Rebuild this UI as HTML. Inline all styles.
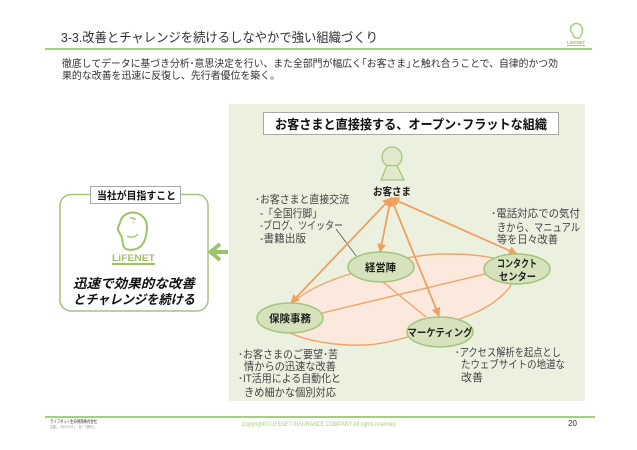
<!DOCTYPE html>
<html lang="ja">
<head>
<meta charset="utf-8">
<style>
html,body{margin:0;padding:0;background:#fff}
svg{display:block}
text{font-family:"Liberation Sans","Noto Sans CJK JP",sans-serif;fill:#333}
.n{font-size:10.5px;font-weight:bold;fill:#222;text-anchor:middle}
.b{font-size:10.8px;fill:#444}
</style>
</head>
<body>
<svg width="637" height="450" viewBox="0 0 637 450" xmlns="http://www.w3.org/2000/svg">
<defs>
<marker id="a" viewBox="0 0 10 10" refX="9" refY="5" markerWidth="5" markerHeight="5" orient="auto-start-reverse"><path d="M0 0L10 5L0 10z" fill="#f0a060"/></marker>
</defs>
<rect width="637" height="450" fill="#fff"/>
<text x="61" y="42" font-size="13.2" textLength="317" lengthAdjust="spacingAndGlyphs">3-3.改善とチャレンジを続けるしなやかで強い組織づくり</text>
<rect x="45" y="48" width="547" height="2" fill="#a9cd7f"/>
<text x="62" y="67" font-size="10.4" textLength="496" lengthAdjust="spacingAndGlyphs">徹底してデータに基づき分析･意思決定を行い、また全部門が幅広く｢お客さま｣と触れ合うことで、自律的かつ効</text>
<text x="62" y="79" font-size="10.4" textLength="218" lengthAdjust="spacingAndGlyphs">果的な改善を迅速に反復し、先行者優位を築く。</text>

<!-- top logo -->
<path d="M576 23.500c4 0 6.500 3 6.500 6.500 0 3-1.500 6-3 7.500-2 1-5 .5-6-1-.5-1.500-.5-2.500-1.500-3.500-1-1-1.500-2-1.500-3.500 0-3.500 2.500-6 5.500-6z" fill="none" stroke="#a9cd7f" stroke-width="1.500"/>
<text x="576" y="44" font-size="4.500" font-weight="bold" text-anchor="middle" textLength="18" lengthAdjust="spacingAndGlyphs" style="fill:#9bc46c">LiFENET</text>
<rect x="567" y="45" width="18" height="1" fill="#a9cd7f"/>

<rect x="229" y="104" width="356" height="297" fill="#ebf0df"/>

<rect x="263.500" y="112.500" width="295" height="22" fill="#fff" stroke="#a8a8a8"/>
<text x="411" y="129" font-size="13" font-weight="bold" text-anchor="middle" textLength="272" lengthAdjust="spacingAndGlyphs" style="fill:#111">お客さまと直接接する、オープン･フラットな組織</text>

<!-- Person -->
<circle cx="392" cy="157" r="10" fill="#e0e9cc" stroke="#a3c47c" stroke-width="1.200"/>
<path d="M387 165.500L397 165.500L404 180H381z" fill="#e0e9cc" stroke="#a3c47c" stroke-width="1.200"/>
<text x="392" y="195" class="n" textLength="38" lengthAdjust="spacingAndGlyphs">お客さま</text>

<!-- Big freeform ellipse -->
<path d="M293 302C310 288 330 280 350 274C375 265 410 254 447 254C465 254 480 255 493 258C510 262 515 275 510 287C500 300 485 310 462 318C440 328 425 333 408 337C390 342 375 345 363 345C340 346 310 342 290 333C272 325 275 310 293 302Z" fill="#fce9dd" stroke="#f0a468" stroke-width="1.400"/>

<!-- thin lines -->
<path d="M383 282L426 317M322 313L485 274" stroke="#f0a468" stroke-width="1.400" fill="none"/>
<path d="M336 229L357 257" stroke="#444" stroke-width="0.700" fill="none"/>

<!-- arrows -->
<g stroke="#f0a060" stroke-width="1.800" fill="none">
<path d="M391 198L380 252" marker-start="url(#a)" marker-end="url(#a)"/>
<path d="M391 198L291 303" marker-start="url(#a)" marker-end="url(#a)"/>
<path d="M391 198L439 316" marker-start="url(#a)" marker-end="url(#a)"/>
<path d="M391 198L517 254" marker-start="url(#a)" marker-end="url(#a)"/>
</g>

<!-- Nodes -->
<g fill="#d5e2bb" stroke="#a3c47c" stroke-width="1.500">
<ellipse cx="381" cy="267" rx="33" ry="15"/>
<ellipse cx="290" cy="318" rx="33" ry="15"/>
<ellipse cx="440" cy="332" rx="33" ry="15"/>
<ellipse cx="517" cy="269" rx="33" ry="15"/>
</g>
<text x="380.500" y="271" class="n" textLength="31" lengthAdjust="spacingAndGlyphs">経営陣</text>
<text x="290" y="322" class="n" textLength="42" lengthAdjust="spacingAndGlyphs">保険事務</text>
<text x="440" y="336" class="n" textLength="65" lengthAdjust="spacingAndGlyphs">マーケティング</text>
<text x="517" y="267" class="n" textLength="40" lengthAdjust="spacingAndGlyphs">コンタクト</text>
<text x="517.500" y="280" class="n" textLength="37" lengthAdjust="spacingAndGlyphs">センター</text>

<!-- Notes -->
<text x="255" y="203" class="b" textLength="94" lengthAdjust="spacingAndGlyphs">･お客さまと直接交流</text>
<text x="260" y="217" class="b" textLength="62" lengthAdjust="spacingAndGlyphs">-「全国行脚」</text>
<text x="260" y="229" class="b" textLength="83" lengthAdjust="spacingAndGlyphs">-ブログ、ツイッター</text>
<text x="260" y="242" class="b" textLength="46" lengthAdjust="spacingAndGlyphs">-書籍出版</text>

<text x="491" y="217" class="b" textLength="89" lengthAdjust="spacingAndGlyphs">･電話対応での気付</text>
<text x="497" y="231" class="b" textLength="83" lengthAdjust="spacingAndGlyphs">きから、マニュアル</text>
<text x="497" y="243" class="b" textLength="61" lengthAdjust="spacingAndGlyphs">等を日々改善</text>

<text x="238" y="358" class="b" textLength="100" lengthAdjust="spacingAndGlyphs">･お客さまのご要望･苦</text>
<text x="244" y="370" class="b" textLength="92" lengthAdjust="spacingAndGlyphs">情からの迅速な改善</text>
<text x="238" y="382" class="b" textLength="103" lengthAdjust="spacingAndGlyphs">･IT活用による自動化と</text>
<text x="244" y="396" class="b" textLength="92" lengthAdjust="spacingAndGlyphs">きめ細かな個別対応</text>

<text x="455" y="356" class="b" textLength="106" lengthAdjust="spacingAndGlyphs">･アクセス解析を起点とし</text>
<text x="461" y="368" class="b" textLength="104" lengthAdjust="spacingAndGlyphs">たウェブサイトの地道な</text>
<text x="461" y="381" class="b" textLength="22" lengthAdjust="spacingAndGlyphs">改善</text>

<!-- Left box -->
<rect x="60" y="194.500" width="148" height="116.500" rx="11" fill="#fff" stroke="#a3c47c" stroke-width="1.500"/>
<rect x="90.500" y="186.500" width="90" height="17" fill="#fff" stroke="#a8a8a8"/>
<text x="136.500" y="199" class="n" textLength="79" lengthAdjust="spacingAndGlyphs" style="fill:#111">当社が目指すこと</text>
<path d="M133 212.500C141 212.500 147 219 147 227C147 235 145 241 142 245C139 249 131 251 126 249C122 247 123 241 122 238C121 234 118 232 118 229C118 226 120 224 120.500 221C122 216 127 212.500 133 212.500Z" fill="none" stroke="#9cc36a" stroke-width="2"/>
<path d="M130 218.500c2-1 4-.5 5.500 1.500M133 222.500h1.200M127 236c3 2 8 1.500 11-2" fill="none" stroke="#9cc36a" stroke-width="1.300"/>
<text x="133.500" y="261" font-size="9.500" font-weight="bold" text-anchor="middle" textLength="43" lengthAdjust="spacingAndGlyphs" style="fill:#9cc36a">LiFENET</text>
<rect x="112" y="263" width="43" height="2" fill="#9cc36a"/>
<text x="134" y="288" font-size="13" font-style="italic" font-weight="bold" text-anchor="middle" textLength="122" lengthAdjust="spacingAndGlyphs" style="fill:#111">迅速で効果的な改善</text>
<text x="134" y="304" font-size="13" font-style="italic" font-weight="bold" text-anchor="middle" textLength="122" lengthAdjust="spacingAndGlyphs" style="fill:#111">とチャレンジを続ける</text>

<!-- Green arrow -->
<path d="M228 252H212M220 244L210.500 252L220 260" fill="none" stroke="#9cc36a" stroke-width="4"/>

<!-- Footer -->
<rect x="45" y="416" width="550" height="2" fill="#a9cd7f"/>
<text x="50" y="423" font-size="4.500" textLength="47" lengthAdjust="spacingAndGlyphs">ライフネット生命保険株式会社</text>
<text x="50" y="428" font-size="3.500" textLength="47" lengthAdjust="spacingAndGlyphs" style="fill:#888">正直に、分かりやすく、安くて便利に。</text>
<text x="242" y="426" font-size="6" textLength="155" lengthAdjust="spacingAndGlyphs" style="fill:#a9cd7f">Copyright© LIFENET INSURANCE COMPANY All rights reserved.</text>
<text x="568" y="426" font-size="8">20</text>
</svg>
</body>
</html>
